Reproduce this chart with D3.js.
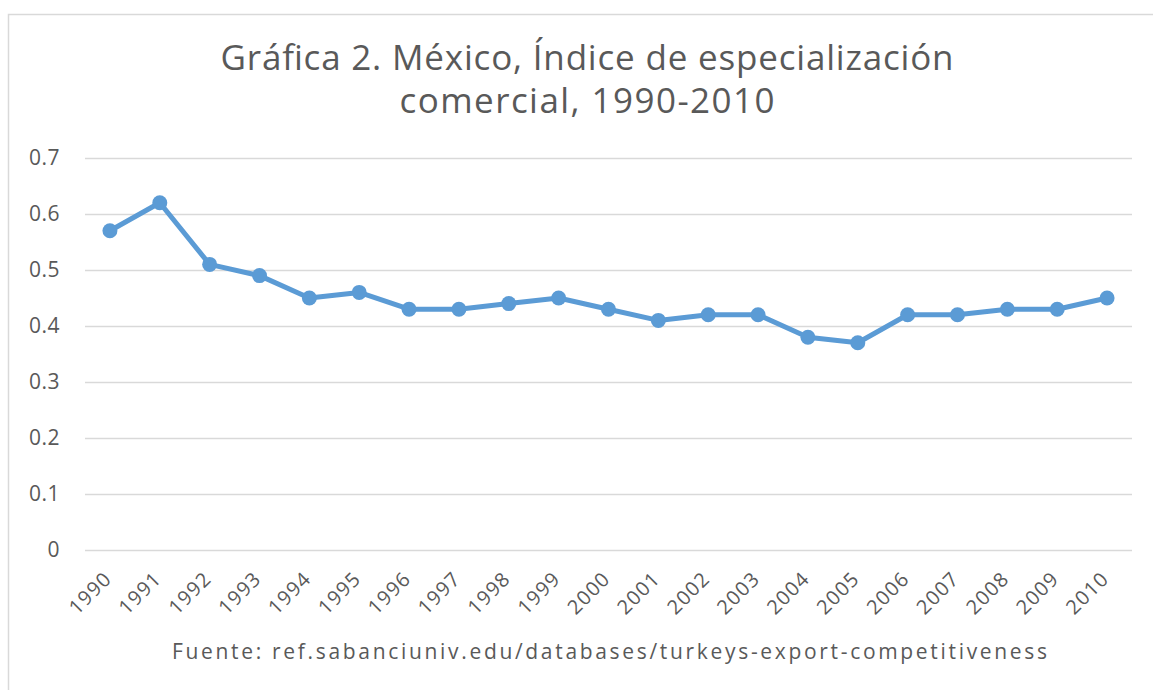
<!DOCTYPE html>
<html>
<head>
<meta charset="utf-8">
<script src="https://cdn.jsdelivr.net/npm/d3@7"></script>
<style>
  body { margin: 0; background: #fff; }
  svg { display: block; font-family: "Open Sans", "Noto Sans", sans-serif; }
</style>
</head>
<body>
<svg id="chart" width="1153" height="690"></svg>
<script>
const years = ['1990','1991','1992','1993','1994','1995','1996','1997','1998','1999','2000',
  '2001','2002','2003','2004','2005','2006','2007','2008','2009','2010']
const indice = [0.57, 0.62, 0.51, 0.49, 0.45, 0.46, 0.43, 0.43, 0.44, 0.45, 0.43,
  0.41, 0.42, 0.42, 0.38, 0.37, 0.42, 0.42, 0.43, 0.43, 0.45]
const yTicks = [0, 0.1, 0.2, 0.3, 0.4, 0.5, 0.6, 0.7]
const titleLines = ['Gráfica 2. México, Índice de especialización', 'comercial, 1990-2010']
const source = 'Fuente: ref.sabanciuniv.edu/databases/turkeys-export-competitiveness'

const svg = d3.select('#chart')
const margin = { top: 158, right: 21, bottom: 140, left: 85 }
const width = 1153 - margin.left - margin.right
const height = 690 - margin.top - margin.bottom
const grey = '#595959'

// outer frame
svg.append('rect')
  .attr('x', 8.5).attr('y', 14.5)
  .attr('width', 1160).attr('height', 690)
  .attr('fill', 'none').attr('stroke', '#d9d9d9').attr('stroke-width', 1.5)

// title, widths
const titleWidths = [733, 375]
svg.append('g')
  .selectAll('text')
  .data(titleLines)
  .enter()
  .append('text')
  .attr('x', 587)
  .attr('y', (d, i) => 70 + i * 43)
  .attr('text-anchor', 'middle')
  .attr('font-size', 35)
  .attr('textLength', (d, i) => titleWidths[i])
  .attr('lengthAdjust', 'spacing')
  .attr('fill', grey)
  .text(d => d)

const xScale = d3.scaleBand()
  .domain(years)
  .range([margin.left, margin.left + width])

const yScale = d3.scaleLinear()
  .domain([0, 0.7])
  .range([margin.top + height, margin.top])

// gridlines + y labels
const yAxis = d3.axisLeft(yScale)
  .tickValues(yTicks)
  .tickSize(-width)
  .tickPadding(25)
  .tickFormat(d => d === 0 ? '0' : d3.format('.1f')(d))
const gy = svg.append('g')
  .attr('transform', `translate(${margin.left}, 0)`)
  .call(yAxis)
gy.select('.domain').remove()
gy.selectAll('line').attr('stroke', '#d9d9d9').attr('stroke-width', 1.5)
gy.selectAll('text')
  .attr('font-size', 21)
  .attr('letter-spacing', 0.5)
  .attr('fill', grey)
  .attr('font-family', '"Open Sans", sans-serif')

// x labels
const xAxis = d3.axisBottom(xScale).tickSize(0).tickPadding(0)
const gx = svg.append('g')
  .attr('transform', `translate(0, ${margin.top + height})`)
  .call(xAxis)
gx.select('.domain').remove()
gx.selectAll('text')
  .attr('font-size', 20)
  .attr('letter-spacing', 1.2)
  .attr('fill', grey)
  .attr('font-family', '"Open Sans", sans-serif')
  .attr('text-anchor', 'end')
  .attr('y', 0)
  .attr('dy', 0)
  .attr('transform', 'translate(3, 30) rotate(-45)')

const line = d3.line()
  .x((d, i) => xScale(years[i]) + xScale.bandwidth() / 2)
  .y(d => yScale(d))

svg.append('path')
  .datum(indice)
  .attr('d', line)
  .attr('fill', 'none')
  .attr('stroke', '#5b9bd5')
  .attr('stroke-width', 5)
  .attr('stroke-linejoin', 'round')

svg.append('g')
  .selectAll('circle')
  .data(indice)
  .enter()
  .append('circle')
  .attr('cx', (d, i) => xScale(years[i]) + xScale.bandwidth() / 2)
  .attr('cy', d => yScale(d))
  .attr('r', 7.5)
  .attr('fill', '#5b9bd5')

svg.append('text')
  .attr('x', 609.5)
  .attr('y', 659)
  .attr('text-anchor', 'middle')
  .attr('font-size', 21)
  .attr('textLength', 875)
  .attr('lengthAdjust', 'spacing')
  .attr('fill', grey)
  .text(source)
</script>
</body>
</html>
